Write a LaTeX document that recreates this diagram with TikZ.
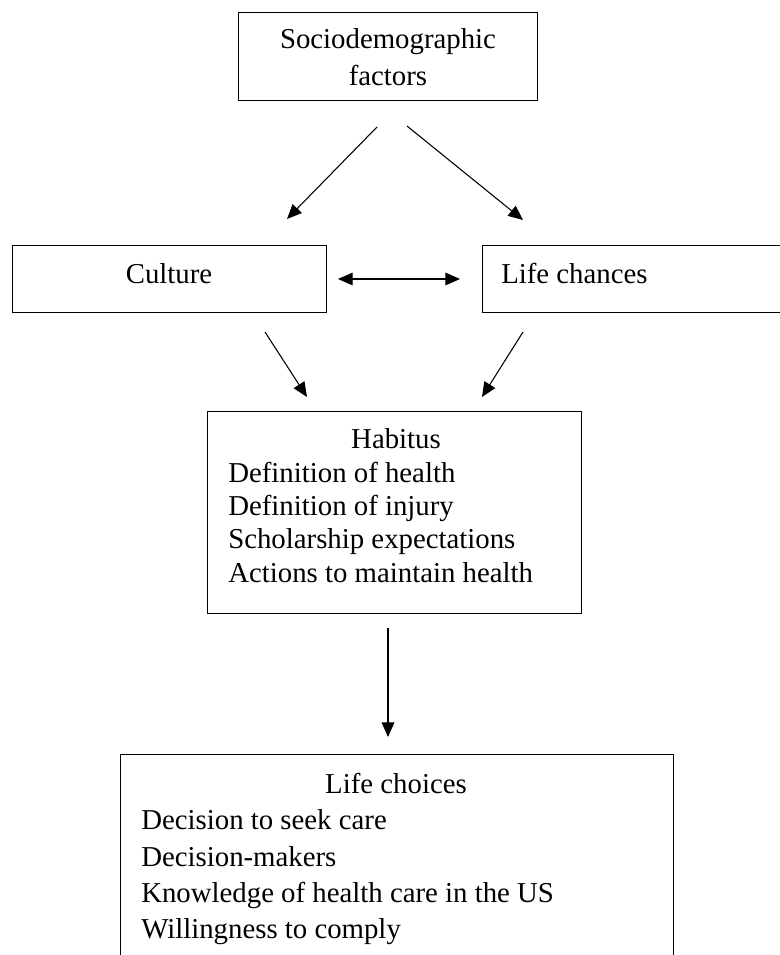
\documentclass[tikz,border=0pt]{standalone}
\usepackage{fontspec}
\setmainfont{Liberation Serif}
\usetikzlibrary{arrows.meta}
\begin{document}
\begin{tikzpicture}[x=0.75pt,y=-0.75pt,
  box/.style={draw, line width=0.8pt, inner sep=0pt, anchor=north west},
  lbl/.style={inner sep=0pt, font=\fontsize{21.6}{25}\selectfont},
  conn/.style={line width=0.8pt, -{Triangle[length=11pt,width=9.5pt]}},
  conntwo/.style={line width=0.8pt, {Triangle[length=11pt,width=9.5pt]}-{Triangle[length=11pt,width=9.5pt]}}]
\useasboundingbox (0,0) rectangle (780,955);
\fill[white] (0,0) rectangle (780,955);
% boxes
\node[box, minimum width=224.25pt, minimum height=66pt] (socio) at (238,12) {};
\node[box, minimum width=235.5pt, minimum height=50.25pt] (culture) at (12,245) {};
\node[box, minimum width=238.5pt, minimum height=50.25pt] (chances) at (482,245) {};
\node[box, minimum width=280.5pt, minimum height=151.5pt] (habitus) at (207,411) {};
\node[box, minimum width=414.75pt, minimum height=172.5pt] (choices) at (120,754) {};
% texts
\node[lbl, anchor=base] (t1) at (388,49) {Sociodemographic};
\node[lbl, anchor=base] (t2) at (388,86) {factors};
\node[lbl, anchor=base] (t3) at (169,283) {Culture};
\node[lbl, anchor=base west] (t4) at (501,283) {Life chances};
\node[lbl, anchor=base] (h0) at (396,448) {Habitus};
\node[lbl, anchor=base west] (h1) at (228,482) {Definition of health};
\node[lbl, anchor=base west] (h2) at (228,515) {Definition of injury};
\node[lbl, anchor=base west] (h3) at (228,548) {Scholarship expectations};
\node[lbl, anchor=base west] (h4) at (228,582) {Actions to maintain health};
\node[lbl, anchor=base] (c0) at (396,793) {Life choices};
\node[lbl, anchor=base west] (c1) at (141,829) {Decision to seek care};
\node[lbl, anchor=base west] (c2) at (141,866) {Decision-makers};
\node[lbl, anchor=base west] (c3) at (141,902) {Knowledge of health care in the US};
\node[lbl, anchor=base west] (c4) at (141,938) {Willingness to comply};
% connector ends
\coordinate (a1s) at (377,127); \coordinate (a1e) at (287,219);
\coordinate (a2s) at (407,126); \coordinate (a2e) at (523,220);
\coordinate (d1) at (338,279);  \coordinate (d2) at (460,279);
\coordinate (a3s) at (265,332); \coordinate (a3e) at (307,397);
\coordinate (a4s) at (523,332); \coordinate (a4e) at (482,397);
\coordinate (a5s) at (388,628); \coordinate (a5e) at (388,737);
\draw[conn] (a1s) -- (a1e);
\draw[conn] (a2s) -- (a2e);
\draw[conntwo] (d1) -- (d2);
\draw[conn] (a3s) -- (a3e);
\draw[conn] (a4s) -- (a4e);
\draw[conn] (a5s) -- (a5e);
\end{tikzpicture}
\end{document}
